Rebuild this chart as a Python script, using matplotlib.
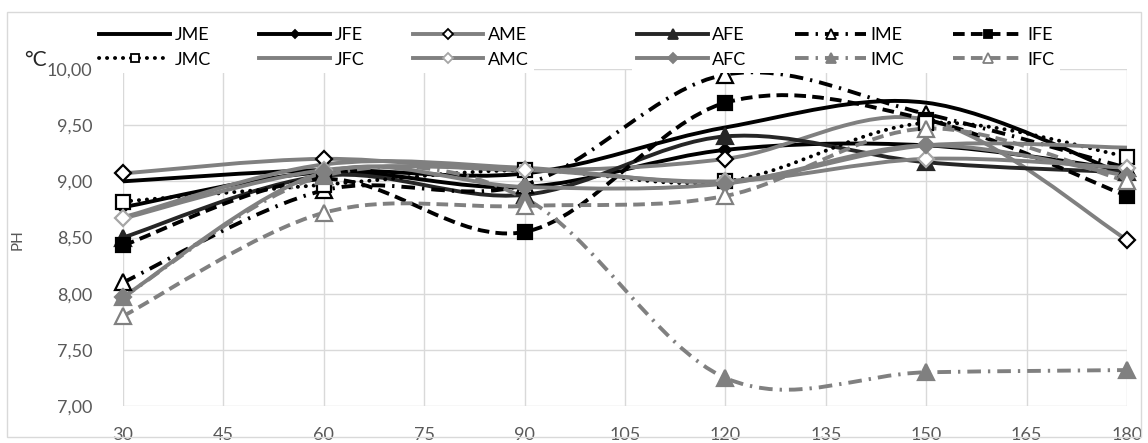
import numpy as np
import matplotlib.pyplot as plt
from matplotlib.path import Path
from matplotlib.patches import PathPatch, Rectangle
from matplotlib.lines import Line2D
from matplotlib.ticker import FuncFormatter, MultipleLocator

plt.rcParams['font.family'] = ['Lato', 'DejaVu Sans']

# sampling time (min)
minutes = [30, 60, 90, 120, 150, 180]

# pH per group
JME = [9.00, 9.10, 9.07, 9.48, 9.70, 9.05]
JFE = [8.77, 9.08, 8.95, 9.28, 9.32, 9.10]
AME = [9.07, 9.20, 9.10, 9.20, 9.55, 8.48]
AFE = [8.50, 9.05, 8.88, 9.40, 9.17, 9.08]
IME = [8.10, 8.92, 8.97, 9.95, 9.60, 9.12]
IFE = [8.43, 9.02, 8.55, 9.70, 9.55, 8.87]
JMC = [8.82, 8.97, 9.10, 9.00, 9.52, 9.22]
JFC = [8.68, 9.15, 9.12, 9.00, 9.32, 9.30]
AMC = [8.67, 9.10, 9.10, 9.00, 9.20, 9.12]
AFC = [7.97, 9.08, 8.95, 8.98, 9.32, 9.05]
IMC = [7.97, 9.05, 8.85, 7.25, 7.30, 7.32]
IFC = [7.80, 8.72, 8.78, 8.87, 9.47, 9.00]

K = '#000000'
DK = '#262626'
G = '#808080'
LG = '#a6a6a6'

solid = '-'
dashed = (0, (3.0, 1.6))
dashdot = (0, (3.5, 1.8, 0.6, 1.8))
dotted = (0, (0.05, 2.0))

# name, values, line colour, line style, marker, face, edge, size
series = [
    ('JME', JME, K, solid, None, K, K, 0),
    ('JFE', JFE, K, solid, 'D', K, K, 6.5),
    ('AME', AME, G, solid, 'D', 'white', K, 8.5),
    ('AFE', AFE, DK, solid, '^', DK, DK, 11),
    ('IME', IME, K, dashdot, '^', 'white', K, 11),
    ('IFE', IFE, K, dashed, 's', K, K, 10),
    ('JMC', JMC, K, dotted, 's', 'white', K, 10),
    ('JFC', JFC, G, solid, None, G, G, 0),
    ('AMC', AMC, G, solid, 'D', 'white', LG, 8.5),
    ('AFC', AFC, G, solid, 'D', G, G, 8.5),
    ('IMC', IMC, G, dashdot, '^', G, G, 11),
    ('IFC', IFC, G, dashed, '^', 'white', G, 11),
]


def smooth_path(xs, ys):
    # cubic bezier through the points, tangents from the neighbours
    pts = np.column_stack([xs, ys]).astype(float)
    ext = np.vstack([pts[0], pts, pts[-1]])
    verts = [pts[0]]
    codes = [Path.MOVETO]
    for i in range(len(pts) - 1):
        p0, p1, p2, p3 = ext[i], ext[i + 1], ext[i + 2], ext[i + 3]
        verts += [p1 + (p2 - p0) / 6, p2 - (p3 - p1) / 6, p2]
        codes += [Path.CURVE4] * 3
    return Path(verts, codes)


fig = plt.figure(figsize=(11.48, 4.43), dpi=100)
ax = fig.add_axes([123 / 1148, 1 - 406 / 443, (1127 - 123) / 1148, (406 - 69) / 443])

lw = 2.8
handles = []
for name, vals, col, ls, mk, mfc, mec, ms in series:
    cap = 'round' if ls is dotted else 'butt'
    ax.add_patch(PathPatch(smooth_path(minutes, vals), fill=False, edgecolor=col,
                           lw=lw, linestyle=ls, capstyle=cap, joinstyle='round',
                           clip_on=False, zorder=3))
    if mk:
        ax.plot(minutes, vals, linestyle='none', marker=mk, ms=ms, mfc=mfc,
                mec=mec, mew=1.6, clip_on=False, zorder=4)
    handles.append(Line2D([], [], color=col, lw=lw, linestyle=ls,
                          dash_capstyle=cap, marker=mk, ms=ms * 0.6,
                          mfc=mfc, mec=mec, mew=1.3))

ax.set_xlim(30, 180)
ax.set_ylim(7, 10)
ax.xaxis.set_major_locator(MultipleLocator(15))
ax.yaxis.set_major_locator(MultipleLocator(0.5))
ax.yaxis.set_major_formatter(FuncFormatter(lambda v, p: f'{v:.2f}'.replace('.', ',')))
ax.grid(True, color='#d9d9d9', lw=1.0, zorder=0)
ax.set_axisbelow(True)
for s in ax.spines.values():
    s.set_visible(False)
ax.tick_params(length=0, labelsize=13, labelcolor='#595959')
ax.tick_params(axis='y', pad=22)
ax.tick_params(axis='x', pad=15)

# two legend blocks of three columns; each fills column by column
labels = [s[0] for s in series]
for cols, x0 in (((0, 1, 2), 94), ((3, 4, 5), 632)):
    order = [i for c in cols for i in (c, c + 6)]
    leg = fig.legend([handles[i] for i in order], [labels[i] for i in order],
                     ncol=3, loc='upper left',
                     bbox_to_anchor=(x0 / 1148, 1 - 22 / 443),
                     frameon=True, facecolor='white', edgecolor='none',
                     framealpha=1, fancybox=False, fontsize=13,
                     handlelength=3.9, handletextpad=0.25, columnspacing=2.7,
                     labelspacing=0.45, borderpad=0.3, borderaxespad=0)

fig.text(24 / 1148, 1 - 60 / 443, '°C', fontsize=15, color='#262626', va='center')
fig.text(18 / 1148, 1 - 240 / 443, 'PH', fontsize=11, color='#595959',
         rotation=90, ha='center', va='center')

fig.patches.append(Rectangle((7 / 1148, 6 / 443), 1134 / 1148, 425 / 443,
                             transform=fig.transFigure, fill=False,
                             edgecolor='#d9d9d9', lw=1.0))

fig.savefig('out.png', dpi=100)
